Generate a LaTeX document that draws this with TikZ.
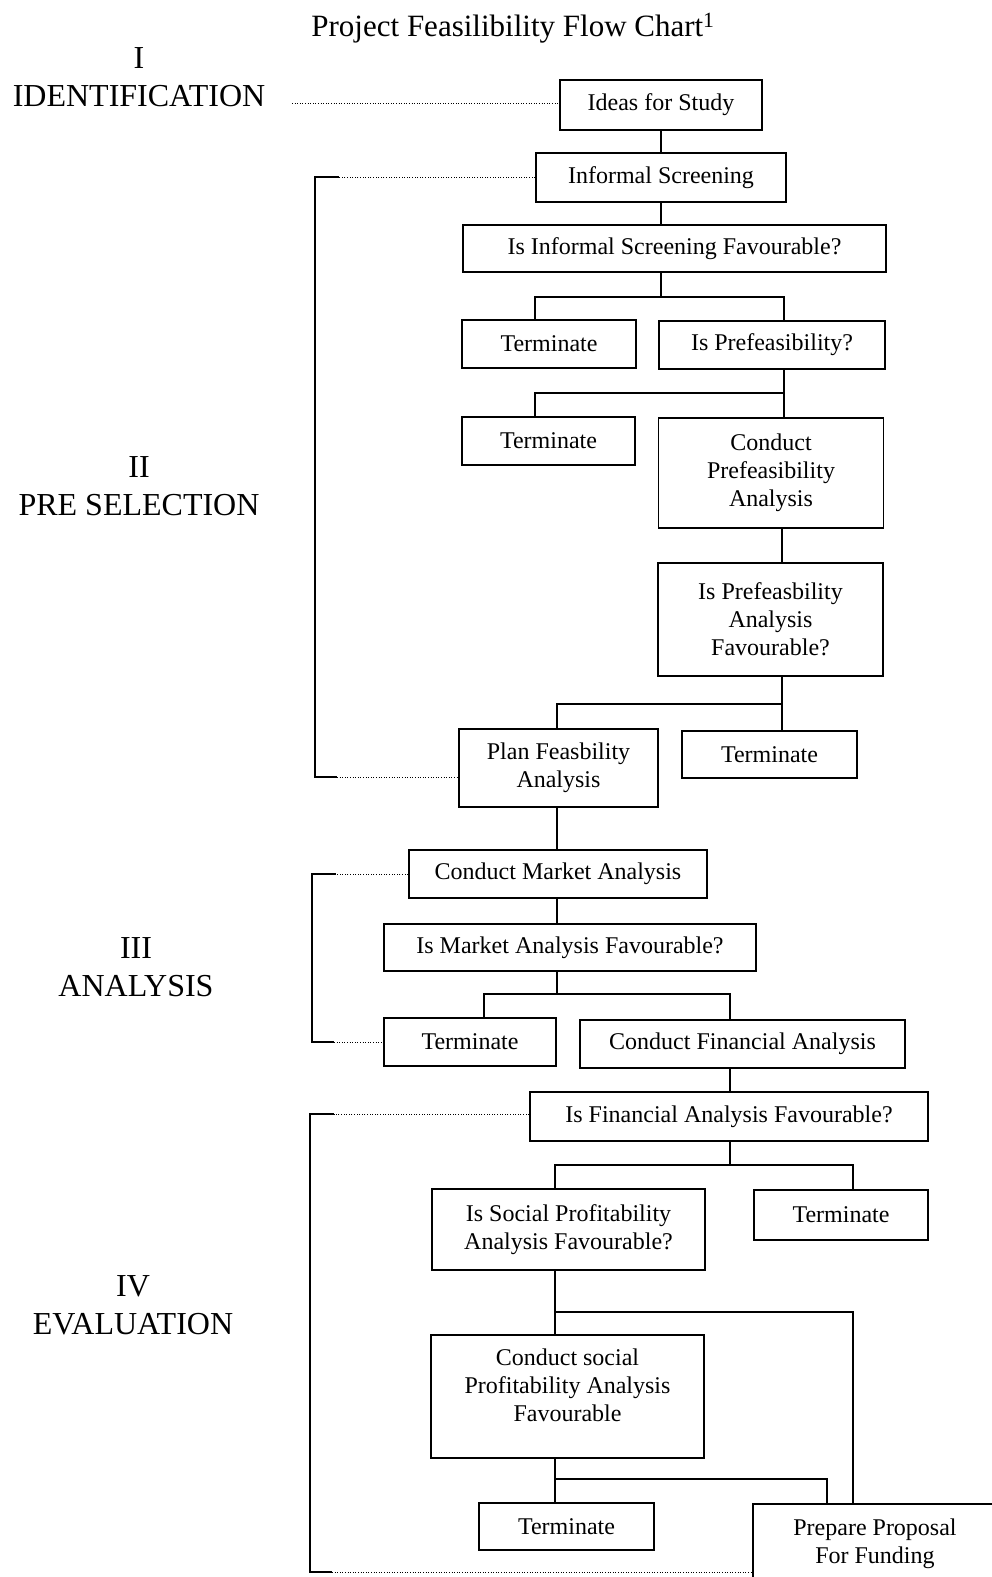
\documentclass[tikz,border=0pt]{standalone}
\usepackage{fontspec}
\setmainfont{Liberation Serif}
\usepackage{tikz}

\begin{document}
\begin{tikzpicture}[x=1pt, y=-1pt, every node/.style={transform shape}]
		\tikzstyle{box}=[draw, line width=1.8pt, inner sep=0pt, align=center, font=\fontsize{24}{28}\selectfont]
		\tikzstyle{stage}=[align=center, font=\fontsize{32}{38}\selectfont]
		\tikzstyle{link}=[line width=1.5pt]
		\tikzstyle{bracket}=[line width=1.8pt]
		\tikzstyle{guide}=[line width=0.8pt, dash pattern=on 1pt off 1.6pt]
		
		\useasboundingbox (0,0) rectangle (992,1577);
		
		\node[font=\fontsize{31}{36}\selectfont] (title) at (513,28) {Project Feasilibility Flow Chart\textsuperscript{1}};
		
		\node[stage] (stage1) at (139,77.5)  {I\\IDENTIFICATION};
		\node[stage] (stage2) at (139,486.5) {II\\PRE SELECTION};
		\node[stage] (stage3) at (136,967.5) {III\\ANALYSIS};
		\node[stage] (stage4) at (133,1305)  {IV\\EVALUATION};
		
		% identification and pre selection
		\node[box, minimum width=202pt, minimum height=50pt]  (ideas)   at (661,105)    {Ideas for Study};
		\node[box, minimum width=250pt, minimum height=49pt]  (screen)  at (661,177.5)  {Informal Screening};
		\node[box, minimum width=423pt, minimum height=47pt]  (isinf)   at (674.5,248.5) {Is Informal Screening Favourable?};
		\node[box, minimum width=174pt, minimum height=48pt]  (term1)   at (549,344)    {Terminate};
		\node[box, minimum width=226pt, minimum height=48pt]  (ispre)   at (772,345)    {Is Prefeasibility?};
		\node[box, minimum width=173pt, minimum height=48pt]  (term2)   at (548.5,441)  {Terminate};
		\node[box, minimum width=225pt, minimum height=110pt] (condpre) at (771,473)    {Conduct\\Prefeasibility\\Analysis};
		\node[box, minimum width=225pt, minimum height=113pt] (isprea)  at (770.5,619.5) {Is Prefeasbility\\Analysis\\Favourable?};
		\node[box, minimum width=199pt, minimum height=78pt]  (plan)    at (558.5,768)  {Plan Feasbility\\Analysis};
		\node[box, minimum width=175pt, minimum height=47pt]  (term3)   at (769.5,754.5) {Terminate};
		
		% analysis
		\node[box, minimum width=298pt, minimum height=48pt]  (market)  at (558,874)    {Conduct Market Analysis};
		\node[box, minimum width=372pt, minimum height=47pt]  (ismarket) at (570,947.5) {Is Market Analysis Favourable?};
		\node[box, minimum width=172pt, minimum height=48pt]  (term4)   at (470,1042)   {Terminate};
		\node[box, minimum width=325pt, minimum height=48pt]  (fin)     at (742.5,1044) {Conduct Financial Analysis};
		
		% evaluation
		\node[box, minimum width=398pt, minimum height=49pt]  (isfin)   at (729,1116.5) {Is Financial Analysis Favourable?};
		\node[box, minimum width=273pt, minimum height=81pt]  (issoc)   at (568.5,1229.5) {Is Social Profitability\\Analysis Favourable?};
		\node[box, minimum width=174pt, minimum height=50pt]  (term5)   at (841,1215)   {Terminate};
		\node[box, minimum width=273pt, minimum height=123pt] (condsoc) at (567.5,1396.5) {Conduct social\\Profitability Analysis\\Favourable\\[-6pt]\mbox{}};
		\node[box, minimum width=175pt, minimum height=47pt]  (term6)   at (566.5,1526.5) {Terminate};
		\node[box, minimum width=244pt, minimum height=80pt]  (prepare) at (875,1544)   {Prepare Proposal\\For Funding};
		
		% branch points
		\coordinate (j1l) at (535,297);  \coordinate (j1r) at (784,297);
		\coordinate (j2l) at (535,393);  \coordinate (j2r) at (784,393);
		\coordinate (j3l) at (557,704);  \coordinate (j3r) at (782,704);
		\coordinate (j4l) at (484,994);  \coordinate (j4r) at (730,994);
		\coordinate (j5l) at (555,1165); \coordinate (j5r) at (853,1165);
		\coordinate (j6l) at (555,1312); \coordinate (j6r) at (853,1312);
		\coordinate (j7l) at (555,1479); \coordinate (j7r) at (827,1479);
		
		\draw[link] (ideas.south) -- (ideas.south |- screen.north);
		\draw[link] (screen.south) -- (screen.south |- isinf.north);
		\draw[link] (isinf.south -| screen.south) -- (screen.south |- j1l);
		\draw[link] (term1.north -| j1l) -- (j1l) -- (j1r) -- (ispre.north -| j1r);
		\draw[link] (ispre.south -| j2r) -- (j2r) -- (j2l) -- (term2.north -| j2l);
		\draw[link] (j2r) -- (condpre.north -| j2r);
		\draw[link] (condpre.south -| j3r) -- (isprea.north -| j3r);
		\draw[link] (isprea.south -| j3r) -- (j3r) -- (j3l) -- (plan.north -| j3l);
		\draw[link] (j3r) -- (term3.north -| j3r);
		\draw[link] (plan.south -| j3l) -- (market.north -| j3l);
		\draw[link] (market.south -| j3l) -- (ismarket.north -| j3l);
		\draw[link] (ismarket.south -| j3l) -- (j3l |- j4l);
		\draw[link] (term4.north -| j4l) -- (j4l) -- (j4r) -- (fin.north -| j4r);
		\draw[link] (fin.south -| j4r) -- (isfin.north -| j4r);
		\draw[link] (isfin.south -| j4r) -- (j4r |- j5l);
		\draw[link] (issoc.north -| j5l) -- (j5l) -- (j5r) -- (term5.north -| j5r);
		\draw[link] (issoc.south -| j6l) -- (condsoc.north -| j6l);
		\draw[link] (j6l) -- (j6r) -- (prepare.north -| j6r);
		\draw[link] (condsoc.south -| j7l) -- (term6.north -| j7l);
		\draw[link] (j7l) -- (j7r) -- (prepare.north -| j7r);
		
		% stage guides
		\coordinate (g0) at (292,103);
		\draw[guide] (g0) -- (ideas.west |- g0);
		
		\coordinate (s1t) at (315,177);  \coordinate (s1b) at (315,777);
		\coordinate (s2t) at (312,874);  \coordinate (s2b) at (312,1042);
		\coordinate (s3t) at (310,1114); \coordinate (s3b) at (310,1572);
		\foreach \t/\b/\top/\bot in {s1t/s1b/screen/plan, s2t/s2b/market/term4, s3t/s3b/isfin/prepare}{
			\draw[guide] (\top.west |- \t) -- ([xshift=24pt]\t);
			\draw[bracket] ([xshift=24pt]\t) -- (\t) -- (\b) -- ([xshift=22pt]\b);
			\draw[guide] ([xshift=22pt]\b) -- (\bot.west |- \b);
		}
\end{tikzpicture}
\end{document}
